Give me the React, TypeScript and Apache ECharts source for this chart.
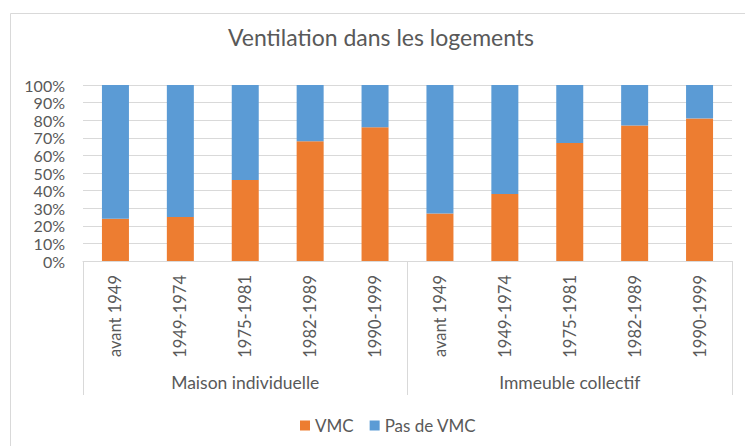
import React, { useEffect, useRef } from "react";
import * as echarts from "echarts";

const categories = [
  "avant 1949", "1949-1974", "1975-1981", "1982-1989", "1990-1999",
  "avant 1949", "1949-1974", "1975-1981", "1982-1989", "1990-1999",
];
const groups = ["Maison individuelle", "Immeuble collectif"];
const vmc = [24, 25, 46, 68, 76, 27, 38, 67, 77, 81];
const pasDeVmc = [76, 75, 54, 32, 24, 73, 62, 33, 23, 19];
const seriesNames = ["VMC", "Pas de VMC"];

const FONT = "Lato";
const TEXT = "#595959";
const GRID = "#D9D9D9";

export default function App() {
  const ref = useRef<HTMLDivElement>(null);
  useEffect(() => {
    if (!ref.current) return;
    const chart = echarts.init(ref.current, undefined, { renderer: "svg" });
    chart.setOption({
      animation: false,
      textStyle: { fontFamily: FONT },
      title: {
        text: "Ventilation dans les logements",
        left: 381,
        top: 25,
        textAlign: "center",
        padding: 0,
        textStyle: { fontFamily: FONT, fontSize: 23, fontWeight: "normal", color: TEXT },
      },
      graphic: [
        {
          type: "rect",
          shape: { x: 10.5, y: 13.5, width: 740, height: 440 },
          style: { fill: "none", stroke: GRID, lineWidth: 1 },
          silent: true,
        },
      ],
      legend: {
        left: 300,
        top: 417,
        padding: 0,
        itemWidth: 10,
        itemHeight: 10,
        itemGap: 16,
        icon: "rect",
        textStyle: { fontFamily: FONT, fontSize: 17, color: TEXT },
        data: seriesNames,
      },
      grid: { left: 83, right: 13, top: 85, bottom: 185 },
      xAxis: [
        {
          type: "category",
          data: categories,
          axisLine: { show: true, lineStyle: { color: GRID } },
          axisTick: { show: false },
          axisLabel: {
            rotate: 90,
            interval: 0,
            margin: 14,
            fontFamily: FONT,
            fontSize: 16.5,
            color: TEXT,
          },
        },
        {
          type: "category",
          data: groups,
          position: "bottom",
          offset: 134,
          axisLine: { show: false },
          axisTick: { show: true, inside: true, length: 134, interval: 0, lineStyle: { color: GRID } },
          axisLabel: { inside: true, margin: 4, fontFamily: FONT, fontSize: 17.5, color: TEXT, interval: 0 },
          splitLine: { show: false },
        },
      ],
      yAxis: {
        type: "value",
        min: 0,
        max: 100,
        interval: 10,
        axisLine: { show: false },
        axisTick: { show: false },
        axisLabel: { formatter: "{value}%", margin: 18, fontFamily: FONT, fontSize: 16, color: TEXT },
        splitLine: { lineStyle: { color: GRID, width: 1 } },
      },
      series: [
        {
          name: seriesNames[0],
          type: "bar",
          stack: "total",
          data: vmc,
          barWidth: 27,
          itemStyle: { color: "#ED7D31" },
        },
        {
          name: seriesNames[1],
          type: "bar",
          stack: "total",
          data: pasDeVmc,
          barWidth: 27,
          itemStyle: { color: "#5B9BD5" },
        },
      ],
    });
    return () => chart.dispose();
  }, []);
  return <div ref={ref} style={{ width: 745, height: 446, position: "absolute", left: 0, top: 0 }} />;
}
